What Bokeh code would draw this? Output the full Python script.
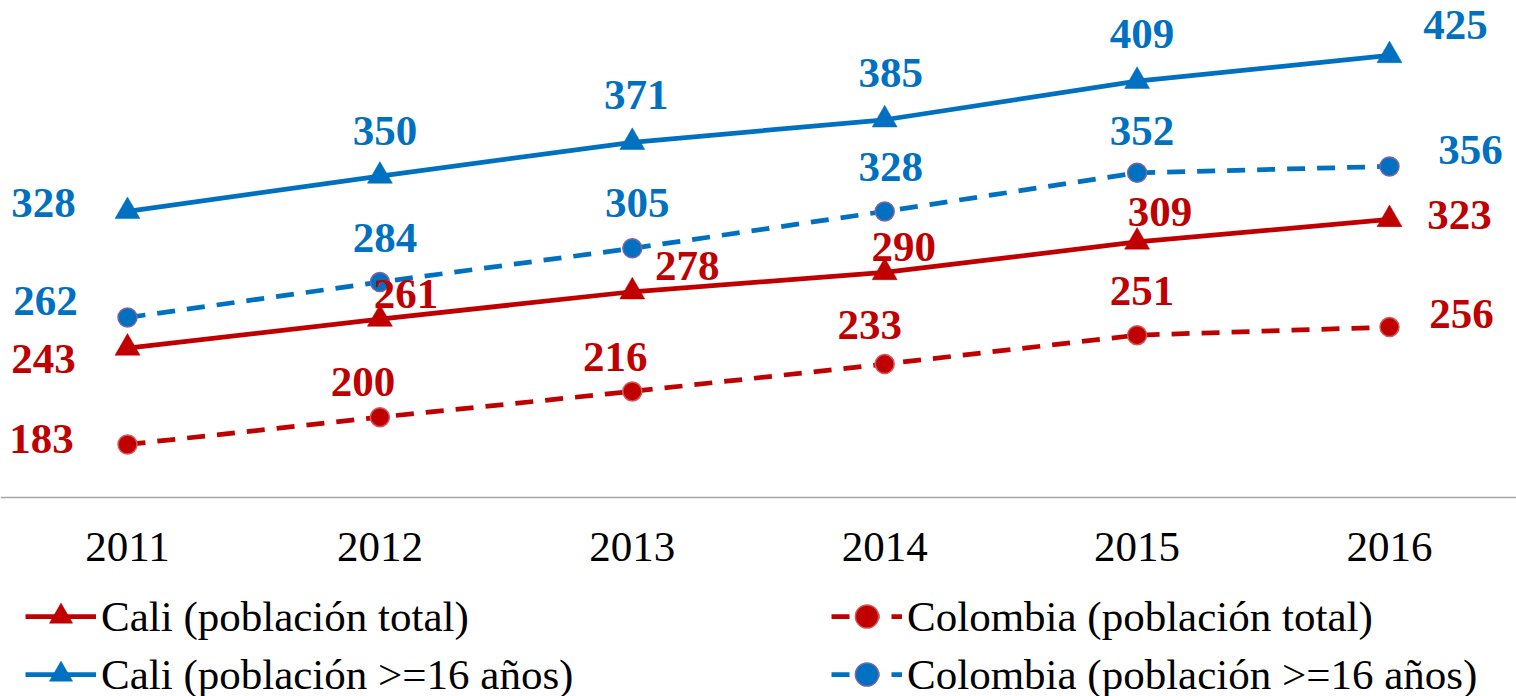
from bokeh.plotting import figure
from bokeh.models import ColumnDataSource, LabelSet, Legend, LegendItem, FixedTicker, Range1d
from bokeh.embed import file_html
from bokeh.resources import INLINE

# ---------------- data ----------------
years = [2011, 2012, 2013, 2014, 2015, 2016]
year_labels = ["2011", "2012", "2013", "2014", "2015", "2016"]
cali_total = [243, 261, 278, 290, 309, 323]
cali_16 = [328, 350, 371, 385, 409, 425]
col_total = [183, 200, 216, 233, 251, 256]
col_16 = [262, 284, 305, 328, 352, 356]
names = ["Cali (población total)", "Cali (población >=16 años)",
         "Colombia (población total)", "Colombia (población >=16 años)"]
axis_base = 150

# ---------------- label placement (screen px, layout only) ----------------
dx_cali_16 = [-84, 5, 4, 6, 5, 66]
dy_cali_16 = [8, 45, 47, 47, 47, 30]
dx_col_16 = [-82, 5, 5, 6, 5, 81]
dy_col_16 = [16, 44, 45, 44, 42, 16]
dx_cali_t = [-84, 26, 55, 19, 23, 70]
dy_cali_t = [-11, 25, 26, 25, 30, 4]
dx_col_t = [-86, -17, -17, -15, 5, 72]
dy_col_t = [5, 35, 34, 39, 44, 13]

RED = "#C00000"
BLUE = "#0070C0"
FONT = "Liberation Serif"

p = figure(width=1516, height=696, frame_width=1516, frame_height=696,
           output_backend="svg", toolbar_location=None,
           x_range=Range1d(2010.4968, 2016.5032), y_range=Range1d(26.2, 459.2),
           y_axis_location=None, min_border_left=0, min_border_right=0,
           min_border_top=0, min_border_bottom=0)
p.outline_line_color = None
p.grid.visible = False
p.background_fill_color = "white"
p.border_fill_color = "white"

xa = p.xaxis[0]
xa.fixed_location = axis_base
xa.ticker = FixedTicker(ticks=years)
xa.major_label_overrides = {y: s for y, s in zip(years, year_labels)}
xa.axis_line_color = "#A6A6A6"
xa.axis_line_width = 1.5
xa.major_tick_line_color = None
xa.minor_tick_line_color = None
xa.major_label_standoff = 29
xa.major_label_text_font = FONT
xa.major_label_text_font_size = "43px"
xa.major_label_text_color = "black"

series = [
    (cali_total, RED, None, "triangle", dx_cali_t, dy_cali_t),
    (cali_16, BLUE, None, "triangle", dx_cali_16, dy_cali_16),
    (col_total, RED, "18 12", "circle", dx_col_t, dy_col_t),
    (col_16, BLUE, "18 12", "circle", dx_col_16, dy_col_16),
]

items = []
for (vals, color, dash, marker, dxs, dys), name in zip(series, names):
    src = ColumnDataSource(dict(x=years, y=vals, txt=[str(v) for v in vals],
                                dx=dxs, dy=dys))
    lkw = dict(line_color=color, line_width=4.75)
    if dash:
        lkw["line_dash"] = dash
    lr = p.line("x", "y", source=src, **lkw)
    if marker == "triangle":
        sr = p.scatter("x", "y", source=src, marker="triangle", size=25,
                       fill_color=color, line_color=color, line_width=0.5)
    else:
        sr = p.scatter("x", "y", source=src, marker="circle", size=19,
                       fill_color=color,
                       line_color="#8064A2" if color == BLUE else "#D05A5A",
                       line_width=1.5)
    labels = LabelSet(x="x", y="y", text="txt", source=src,
                      x_offset="dx", y_offset="dy",
                      text_align="center", text_baseline="middle",
                      text_font=FONT, text_font_size="43px",
                      text_font_style="bold", text_color=color)
    p.add_layout(labels)
    items.append(LegendItem(label=name, renderers=[lr, sr]))

legend = Legend(items=items, location=(25, -7), orientation="vertical", nrows=2,
                glyph_width=71, glyph_height=58, label_height=58, label_width=730,
                label_standoff=5, spacing=0, padding=0, margin=0,
                border_line_color=None, background_fill_alpha=0,
                label_text_font=FONT, label_text_font_size="43px",
                label_text_color="black")
p.add_layout(legend, "center")

open("out.html", "w").write(file_html(p, INLINE))
